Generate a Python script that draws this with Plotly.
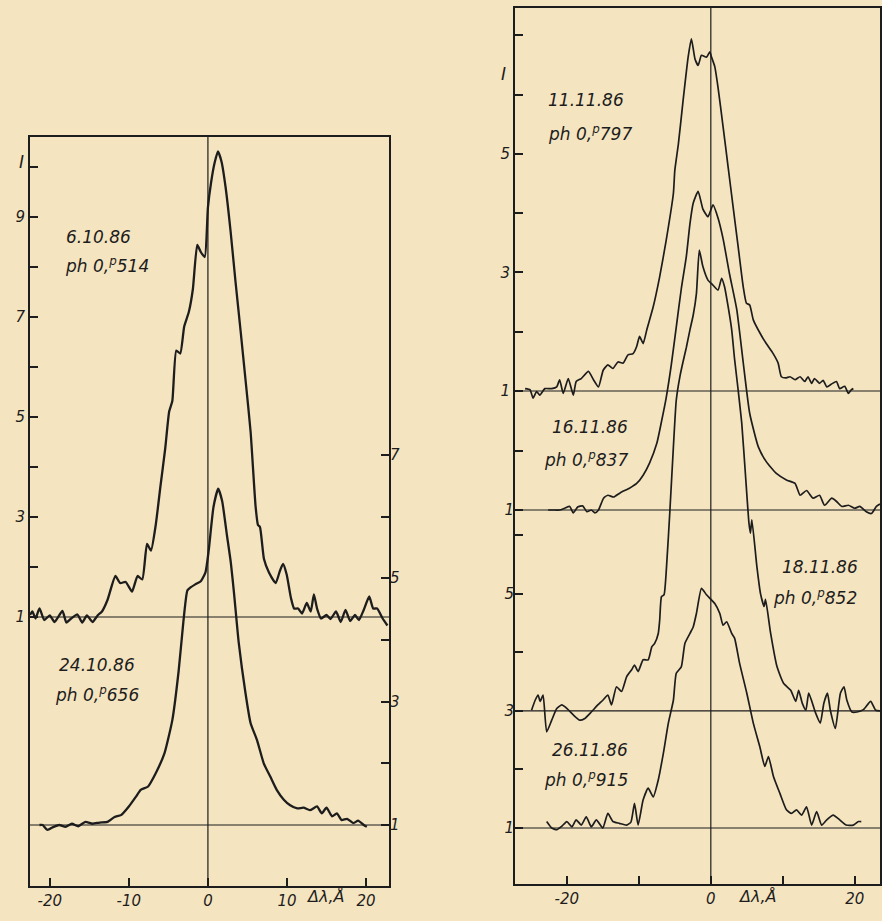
import plotly.graph_objects as go

# ---------------- data (Δλ in Å, relative intensity) ----------------
# 6.10.86  ph 0.514  (left panel, left scale)
p1_x = [-22.5,-22.2,-21.8,-21.3,-20.7,-20.0,-19.4,-18.4,-17.9,-17.3,-16.5,-15.9,-15.3,-14.6,-13.9,-13.4,-12.7,-11.7,-11.1,-10.4,-9.6,-8.9,-8.3,-7.7,-7.2,-6.6,-6.0,-5.4,-4.9,-4.5,-4.0,-3.5,-3.0,-2.4,-1.9,-1.35,-0.9,-0.4,0.0,0.4,0.84,1.27,1.73,2.24,2.87,3.5,4.14,4.77,5.4,6.03,6.33,6.58,7.09,7.72,8.57,9.1,9.5,9.96,10.5,10.9,11.4,11.9,12.5,13.0,13.4,13.8,14.3,15.0,15.5,16.2,16.8,17.4,18.0,18.6,19.1,19.7,20.4,20.9,21.4,22.1,22.7]
p1_y = [1.04,1.11,0.97,1.17,0.94,1.03,0.90,1.12,0.89,0.97,1.05,0.89,1.03,0.90,1.04,1.11,1.34,1.82,1.68,1.70,1.51,1.82,1.75,2.46,2.33,2.84,3.62,4.37,5.11,5.32,6.33,6.27,6.81,7.11,7.56,8.44,8.30,8.20,9.19,9.69,10.08,10.31,10.10,9.59,8.71,7.69,6.71,5.72,4.70,3.21,2.84,2.80,2.16,1.89,1.68,1.92,2.06,1.85,1.38,1.17,1.17,1.07,1.28,1.11,1.45,1.17,0.97,1.04,0.96,1.11,0.90,1.14,0.92,1.04,0.94,1.14,1.41,1.17,1.17,0.97,0.83]

# 24.10.86  ph 0.656  (left panel, right scale)
p2_x = [-21.3,-20.9,-20.3,-19.5,-18.8,-18.0,-17.2,-16.4,-15.5,-14.6,-13.7,-12.7,-11.8,-11.0,-10.0,-9.1,-8.5,-7.6,-6.6,-5.5,-4.5,-3.7,-3.1,-2.6,-2.2,-1.6,-0.9,-0.3,0.1,0.7,1.3,1.8,2.4,2.9,3.3,3.9,4.75,5.4,6.2,7.06,7.9,8.7,9.6,10.4,11.3,12.1,12.9,13.8,14.4,15.0,15.7,16.3,16.9,17.6,18.4,19.0,19.7,20.1]
p2_y = [1.0,1.0,0.92,0.97,1.0,0.97,1.02,0.98,1.05,1.02,1.04,1.05,1.13,1.16,1.30,1.46,1.57,1.62,1.84,2.16,2.70,3.50,4.30,4.80,4.85,4.90,4.95,5.10,5.45,6.15,6.45,6.25,5.70,5.25,4.76,3.95,3.14,2.65,2.38,2.00,1.78,1.57,1.41,1.32,1.27,1.28,1.24,1.30,1.19,1.28,1.14,1.19,1.08,1.10,1.03,1.07,1.00,0.97]

# 11.11.86  ph 0.797  (right panel)
p3_x = [-25.8,-25.1,-24.7,-24.2,-23.75,-23.05,-22.1,-21.4,-21.0,-20.5,-19.8,-19.1,-18.7,-18.0,-17.0,-16.3,-15.6,-14.95,-14.3,-13.6,-12.9,-12.2,-11.5,-10.8,-10.3,-9.9,-9.4,-8.9,-8.0,-7.1,-6.2,-5.2,-5.0,-4.5,-3.85,-3.15,-2.7,-2.2,-1.76,-1.3,-0.6,-0.14,0.1,0.55,1.0,1.7,2.4,3.1,3.8,4.5,4.95,5.4,5.9,7.0,7.7,8.66,9.35,9.8,10.4,11.0,11.7,12.4,13.05,13.5,14.0,14.4,15.1,15.6,16.1,16.8,17.45,17.9,18.6,19.1,19.5,19.8]
p3_y = [1.04,1.02,0.88,0.99,0.93,1.04,1.04,1.07,1.19,0.96,1.21,0.93,1.16,1.21,1.33,1.19,1.07,1.35,1.44,1.38,1.49,1.47,1.61,1.63,1.75,1.92,1.80,2.03,2.42,2.93,3.54,4.33,4.72,5.17,5.90,6.63,6.94,6.60,6.49,6.66,6.63,6.72,6.63,6.47,6.12,5.46,4.78,4.10,3.43,2.76,2.48,2.45,2.20,1.94,1.80,1.63,1.47,1.24,1.22,1.24,1.19,1.24,1.16,1.24,1.13,1.21,1.13,1.18,1.07,1.12,1.16,1.04,1.08,0.96,1.02,1.04]

# 16.11.86  ph 0.837
p4_x = [-22.6,-21.9,-21.0,-20.3,-19.6,-19.1,-18.5,-17.8,-17.2,-16.6,-16.1,-15.6,-14.9,-14.3,-13.5,-12.6,-11.3,-10.3,-9.4,-8.5,-7.5,-6.85,-6.2,-5.5,-4.8,-4.1,-3.4,-2.9,-2.45,-1.76,-1.1,-0.4,0.3,1.0,1.7,2.6,3.6,4.5,5.4,6.6,7.7,9.1,10.5,11.7,12.4,13.3,14.2,15.1,15.8,16.8,17.5,18.2,19.1,20.0,20.7,21.6,22.3,23.0,23.5]
p4_y = [1.0,1.0,1.0,1.03,1.06,0.95,1.05,1.07,0.97,1.0,0.95,1.0,1.20,1.25,1.22,1.29,1.37,1.45,1.59,1.80,2.13,2.50,2.90,3.45,4.10,4.75,5.30,5.85,6.20,6.40,6.10,5.97,6.17,5.95,5.60,5.00,4.40,3.50,2.64,2.07,1.82,1.62,1.51,1.45,1.25,1.33,1.20,1.25,1.08,1.20,1.14,1.06,1.08,1.03,1.06,0.97,0.94,1.06,1.10]

# 18.11.86  ph 0.852  (continuum at the "3" mark of the lower scale)
p5_x = [-24.9,-24.4,-24.0,-23.7,-23.3,-22.8,-22.1,-21.4,-20.7,-20.0,-19.1,-18.2,-17.5,-16.6,-15.7,-15.0,-14.3,-13.8,-13.1,-12.4,-11.7,-11.0,-10.6,-10.1,-9.4,-8.7,-8.2,-7.8,-7.3,-7.1,-6.85,-6.5,-6.15,-5.7,-5.2,-4.8,-4.3,-3.85,-3.4,-2.9,-2.45,-2.0,-1.6,-1.1,-0.4,0.1,1.0,1.5,1.9,2.4,2.9,3.3,3.8,4.3,4.8,5.3,5.5,5.7,6.4,6.9,7.4,7.6,8.3,9.2,10.1,11.1,11.8,12.2,12.7,13.2,13.6,14.5,15.2,15.7,16.2,16.6,17.3,18.0,18.5,18.9,19.6,20.3,21.2,22.2,22.9,23.5]
p5_y = [3.01,3.18,3.27,3.16,3.27,2.64,2.84,3.04,3.10,3.04,2.93,2.84,2.87,2.98,3.10,3.18,3.27,3.10,3.41,3.33,3.58,3.70,3.78,3.67,3.87,3.87,4.09,4.15,4.32,4.55,4.95,4.98,5.46,6.38,7.50,8.30,8.70,8.96,9.20,9.50,9.75,10.12,10.86,10.58,10.35,10.29,10.18,10.38,10.24,9.90,9.50,9.00,8.47,7.90,7.05,6.20,6.03,6.26,5.46,5.00,4.78,4.90,4.33,3.75,3.47,3.35,3.16,3.35,3.13,3.01,3.30,2.98,2.79,3.13,3.30,3.01,2.70,3.30,3.41,3.18,2.98,2.98,3.02,3.16,3.01,3.00]

# 26.11.86  ph 0.915
p6_x = [-22.8,-22.1,-21.4,-20.7,-20.0,-19.3,-18.7,-18.0,-17.3,-16.6,-15.9,-15.0,-14.3,-13.6,-12.7,-11.7,-11.1,-10.6,-10.1,-9.4,-8.7,-8.0,-7.3,-6.6,-5.9,-5.2,-4.8,-4.1,-3.6,-2.9,-2.45,-2.0,-1.3,-0.6,0.55,1.25,1.7,2.2,2.9,3.3,4.0,5.0,5.9,6.8,7.5,8.0,8.7,9.6,10.5,11.2,11.9,12.6,13.3,14.0,14.7,15.4,16.1,17.0,17.9,18.8,19.8,20.5,20.9]
p6_y = [1.11,1.0,0.97,1.03,1.11,1.02,1.14,1.05,1.19,1.02,1.14,1.0,1.25,1.11,1.08,1.05,1.10,1.42,1.05,1.48,1.68,1.53,1.82,2.27,2.79,3.18,3.64,3.75,4.15,4.32,4.43,4.66,5.09,4.98,4.83,4.66,4.46,4.52,4.32,4.24,3.81,3.30,2.79,2.39,2.05,2.22,1.88,1.59,1.31,1.25,1.31,1.22,1.36,1.05,1.28,1.05,1.14,1.22,1.14,1.05,1.05,1.11,1.11]

left_ticks = [1, 2, 3, 4, 5, 6, 7, 8, 9, 10]
left_ticktext = ["1", "", "3", "", "5", "", "7", "", "9", ""]
right_ticks = [1, 2, 3, 4, 5, 6, 7]
right_ticktext = ["1", "", "3", "", "5", "", "7"]
p3_ticks = [1, 2, 3, 4, 5, 6, 7]
p3_ticktext = ["1", "", "3", "", "5", "", ""]
p4_ticks = [1, 2]
p4_ticktext = ["1", ""]
p56_ticks = [1, 2, 3, 4, 5, 6]
p56_ticktext = ["1", "", "3", "", "5", ""]
edge_ticks = [0, 1, 2, 3, 4, 5, 6]
x_ticks = [-20, -10, 0, 10, 20]
x1_ticktext = ["-20", "-10", "0", "10", "20"]
x2_ticktext = ["-20", "", "0", "", "20"]

# ---------------- styling ----------------
BG = "#F5E4C0"
INK = "#1d1d1d"
FONT = "DejaVu Sans"
W, H = 882, 921

def dom_x(a, b):
    return [a / W, b / W]

def dom_y(top, bottom):
    return [1 - bottom / H, 1 - top / H]

def yrange(base_px, unit_px, top_px, bottom_px, base_val=1.0):
    return [base_val - (bottom_px - base_px) / unit_px, base_val + (base_px - top_px) / unit_px]

fig = go.Figure()
lw1, lw2 = 2.3, 1.7
fig.add_trace(go.Scatter(x=p1_x, y=p1_y, xaxis="x", yaxis="y", mode="lines",
                         line=dict(color=INK, width=lw1, shape="spline", smoothing=0.5)))
fig.add_trace(go.Scatter(x=p2_x, y=p2_y, xaxis="x", yaxis="y2", mode="lines",
                         line=dict(color=INK, width=lw1, shape="spline", smoothing=0.5)))
fig.add_trace(go.Scatter(x=p3_x, y=p3_y, xaxis="x2", yaxis="y3", mode="lines",
                         line=dict(color=INK, width=lw2, shape="spline", smoothing=0.5)))
fig.add_trace(go.Scatter(x=p4_x, y=p4_y, xaxis="x2", yaxis="y4", mode="lines",
                         line=dict(color=INK, width=lw2, shape="spline", smoothing=0.5)))
fig.add_trace(go.Scatter(x=p5_x, y=p5_y, xaxis="x2", yaxis="y5", mode="lines",
                         line=dict(color=INK, width=lw2, shape="spline", smoothing=0.5)))
fig.add_trace(go.Scatter(x=p6_x, y=p6_y, xaxis="x2", yaxis="y5", mode="lines",
                         line=dict(color=INK, width=lw2, shape="spline", smoothing=0.5)))

tickfont = dict(family=FONT, size=15, color=INK, style="italic")
common_ax = dict(showgrid=False, zeroline=False, ticks="inside", ticklen=8, tickwidth=1.5,
                 tickcolor=INK, tickfont=tickfont, fixedrange=True)

left_top, left_bot = 137, 886
right_top, right_bot = 8, 884

fig.update_layout(
    width=W, height=H, margin=dict(l=0, r=0, t=0, b=0),
    paper_bgcolor=BG, plot_bgcolor=BG, showlegend=False,
    xaxis=dict(domain=dom_x(30, 389), range=[-22.5, 22.9], anchor="y",
               tickvals=x_ticks, ticktext=x1_ticktext, showline=True, mirror=True,
               linewidth=2, linecolor=INK, **common_ax),
    yaxis=dict(domain=dom_y(left_top, left_bot), range=yrange(617, 50, left_top, left_bot),
               anchor="x", tickvals=left_ticks, ticktext=left_ticktext, showline=True,
               mirror=True, linewidth=2, linecolor=INK, **common_ax),
    yaxis2=dict(overlaying="y", side="right", anchor="x",
                range=yrange(825, 61.7, left_top, left_bot),
                tickvals=right_ticks, ticktext=right_ticktext, showline=False, **common_ax),
    xaxis2=dict(domain=dom_x(515, 880), range=[-27.2, 23.5], anchor="y3",
                tickvals=x_ticks, ticktext=x2_ticktext, showline=True, mirror=True,
                linewidth=2, linecolor=INK, **common_ax),
    yaxis3=dict(domain=dom_y(right_top, right_bot), anchor="x2",
                range=yrange(391, 59.3, right_top, right_bot),
                tickvals=p3_ticks, ticktext=p3_ticktext, showline=True, mirror=True,
                linewidth=2, linecolor=INK, **common_ax),
    yaxis4=dict(overlaying="y3", anchor="x2", side="left",
                range=yrange(510, 59.0, right_top, right_bot),
                tickvals=p4_ticks, ticktext=p4_ticktext, showline=False, **common_ax),
    yaxis5=dict(overlaying="y3", anchor="x2", side="left",
                range=yrange(828, 58.6, right_top, right_bot),
                tickvals=p56_ticks, ticktext=p56_ticktext, showline=False, **common_ax),
    yaxis6=dict(overlaying="y3", anchor="x2", side="right",
                range=yrange(680, 57.0, right_top, right_bot, base_val=0),
                tickvals=edge_ticks, ticktext=[""] * len(edge_ticks), showline=False, **common_ax),
)

# reference lines: Δλ = 0 and continuum levels
line_thin = dict(color=INK, width=1.2)
for xr in ["x", "x2"]:
    fig.add_shape(type="line", xref=xr, x0=0, x1=0,
                  yref=("y domain" if xr == "x" else "y3 domain"), y0=0, y1=1, line=line_thin)
for yr, val in [("y", 1), ("y2", 1)]:
    fig.add_shape(type="line", xref="x domain", x0=0, x1=1, yref=yr, y0=val, y1=val, line=line_thin)
for yr, val in [("y3", 1), ("y4", 1), ("y5", 3), ("y5", 1)]:
    fig.add_shape(type="line", xref="x2 domain", x0=0, x1=1, yref=yr, y0=val, y1=val, line=line_thin)

def note(xr, yr, x, y, text, size=17):
    fig.add_annotation(xref=xr, yref=yr, x=x, y=y, text=text, showarrow=False,
                       font=dict(family=FONT, size=size, color=INK, style="italic"))

# labels (left panel)
note("x", "y", -13.8, 8.6, "6.10.86")
note("x", "y", -12.8, 8.05, "ph 0,<sup>p</sup>514")
note("x", "y2", -14.0, 3.6, "24.10.86")
note("x", "y2", -14.0, 3.13, "ph 0,<sup>p</sup>656")
# labels (right panel)
note("x2", "y3", -17.3, 5.9, "11.11.86")
note("x2", "y3", -16.8, 5.35, "ph 0,<sup>p</sup>797")
note("x2", "y4", -16.8, 2.4, "16.11.86")
note("x2", "y4", -17.3, 1.87, "ph 0,<sup>p</sup>837")
note("x2", "y5", 15.2, 5.45, "18.11.86")
note("x2", "y5", 14.5, 4.95, "ph 0,<sup>p</sup>852")
note("x2", "y5", -16.8, 2.33, "26.11.86")
note("x2", "y5", -17.3, 1.84, "ph 0,<sup>p</sup>915")
# intensity axis labels and wavelength labels
fig.add_annotation(xref="paper", yref="paper", x=17 / W, y=1 - 150 / H, text="I",
                   showarrow=False, font=dict(family=FONT, size=17, color=INK, style="italic"))
fig.add_annotation(xref="paper", yref="paper", x=503 / W, y=1 - 62 / H, text="I",
                   showarrow=False, font=dict(family=FONT, size=17, color=INK, style="italic"))
note("x", "paper", 14.8, 1 - 908 / H, "Δλ,Å", 16)
note("x2", "paper", 6.4, 1 - 908 / H, "Δλ,Å", 16)

fig.write_html(
    "out.html",
    config={"displayModeBar": False},
    post_script="document.body.style.margin='0';document.body.style.background='%s';" % BG,
)
